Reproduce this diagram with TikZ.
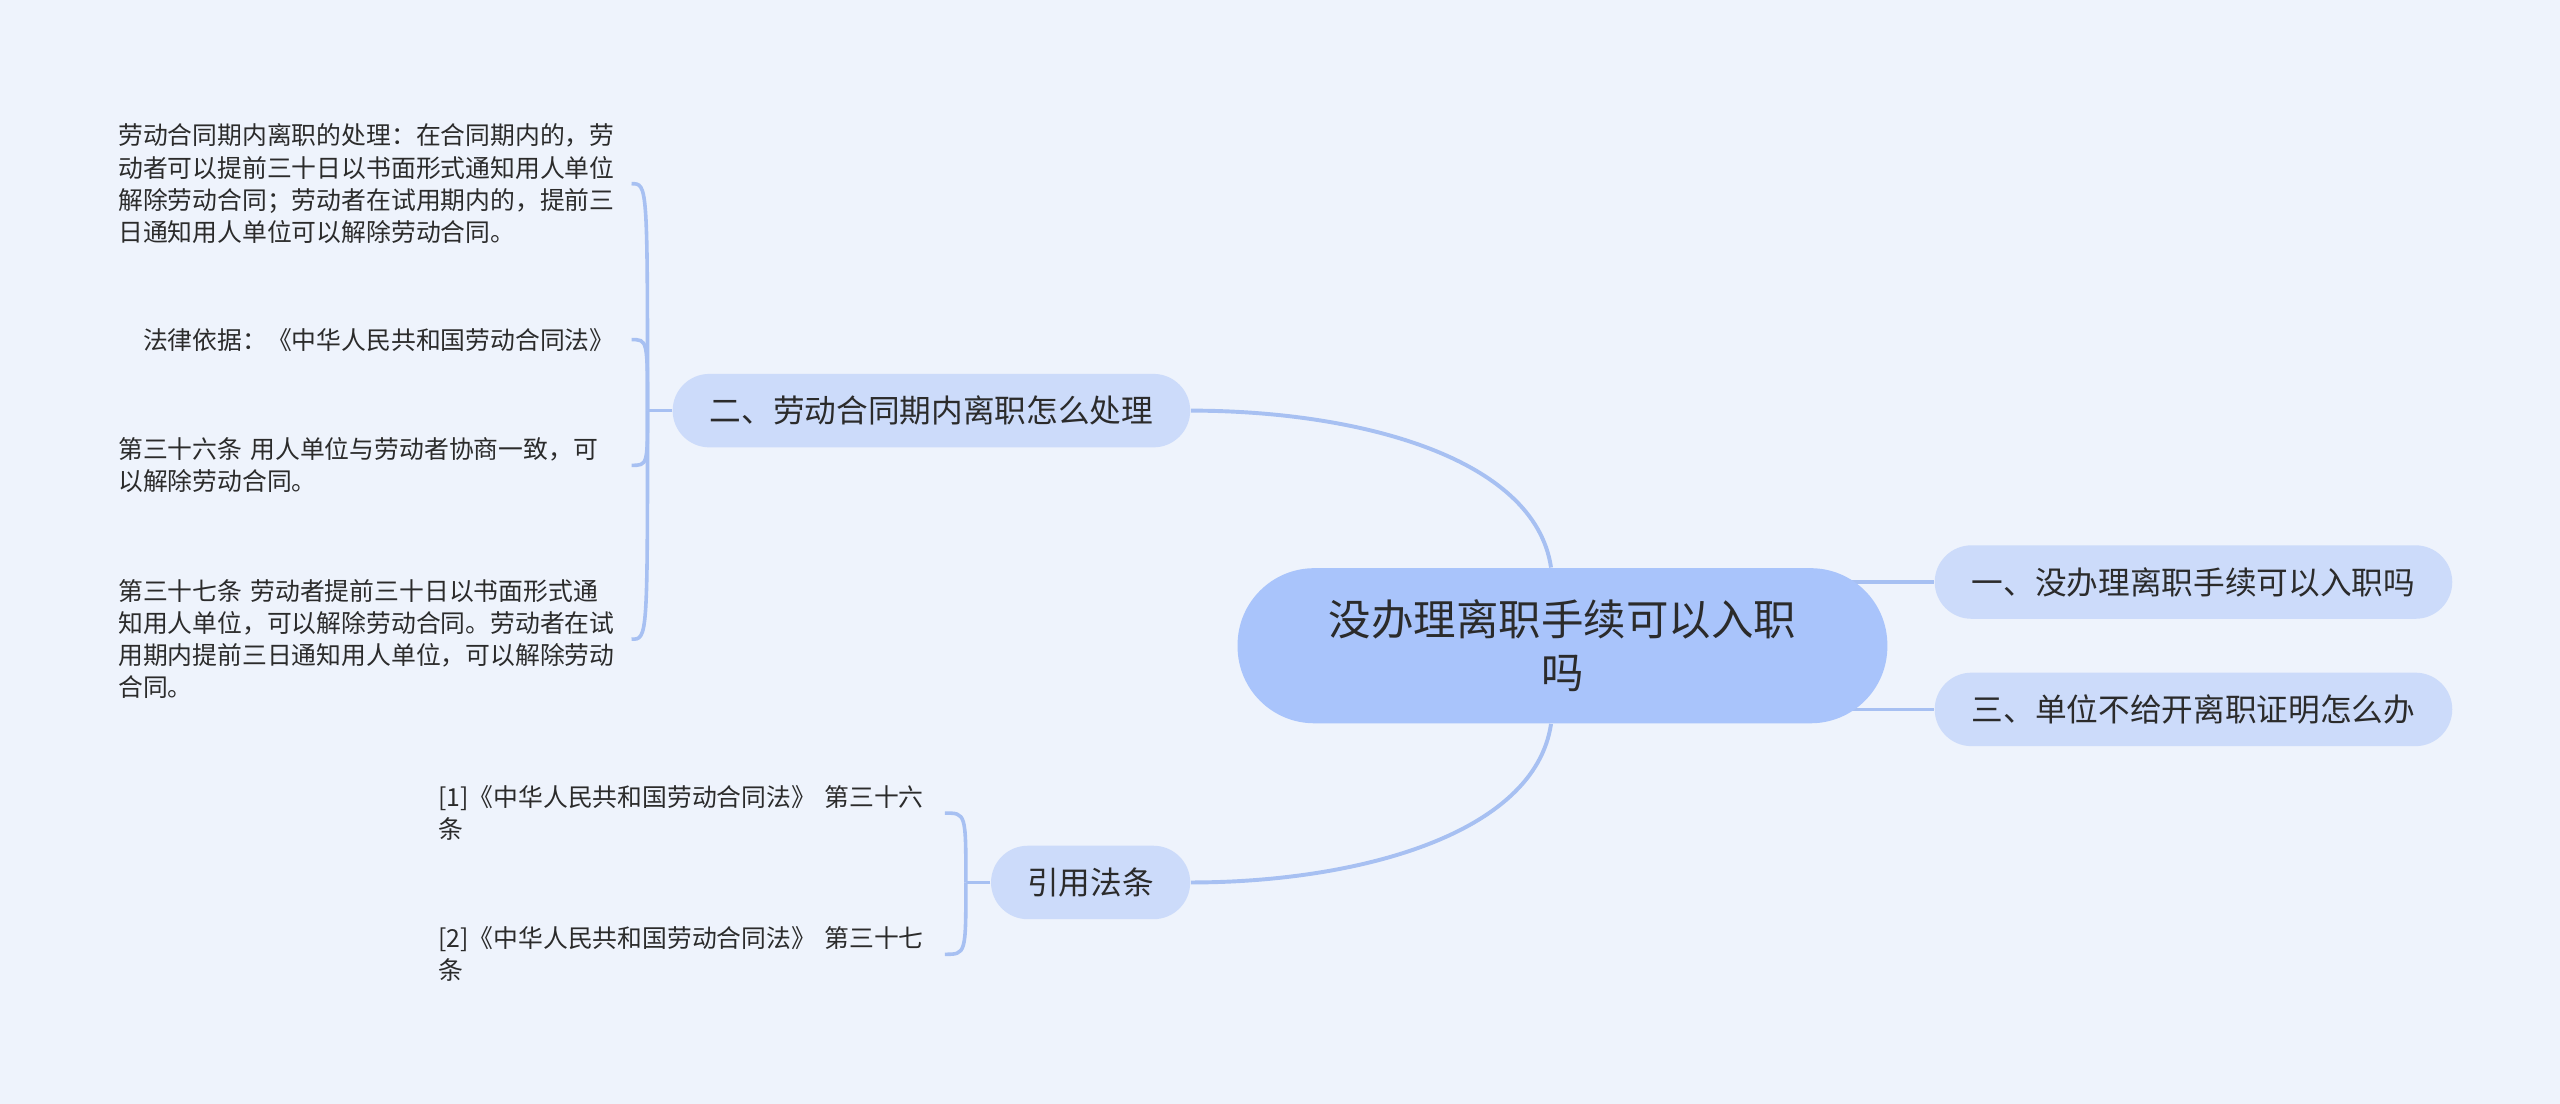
\documentclass[tikz,border=0pt]{standalone}
\usepackage{fontspec}
\setmainfont{Noto Sans CJK SC}
\usetikzlibrary{calc}
\definecolor{bgc}{HTML}{EEF3FC}
\definecolor{rootc}{HTML}{A9C4FB}
\definecolor{subc}{HTML}{CCDBFA}
\definecolor{linec}{HTML}{A7C0F2}
\definecolor{txtc}{HTML}{2B2B2B}
\pgfdeclarelayer{bglayer}
\pgfdeclarelayer{edgelayer}
\pgfsetlayers{bglayer,edgelayer,main}
\tikzset{
  rootnode/.style={fill=rootc, rounded corners=23.5pt, minimum width=199pt, minimum height=47.5pt,
    inner sep=0pt, align=center, text=txtc, font=\fontsize{13}{16}\selectfont},
  subnode/.style={fill=subc, rounded corners=11.25pt, minimum height=22.5pt, inner sep=0pt,
    text=txtc, font=\fontsize{9.7}{12}\selectfont},
  leafnode/.style={anchor=west, inner sep=0pt, align=left, text=txtc,
    font=\fontsize{7.6}{9.85}\selectfont},
  mainconn/.style={draw=linec, line width=1.2pt},
  sideconn/.style={draw=linec, line width=1.1pt},
  brconn/.style={draw=linec, line width=1.1pt},
}
\begin{document}
\begin{tikzpicture}[x=0.5pt,y=-0.5pt]
\begin{pgfonlayer}{bglayer}
\fill[bgc] (0,0) rectangle (1568,676);
\end{pgfonlayer}
\useasboundingbox (0,0) rectangle (1568,676);

% nodes
\node[rootnode] (c) at (957,395.5) {没办理离职手续可以入职\\吗};
\node[subnode, minimum width=158.5pt] (n1) at (1343.5,356.5) {一、没办理离职手续可以入职吗};
\node[subnode, minimum width=158.5pt] (n3) at (1343.5,434.5) {三、单位不给开离职证明怎么办};
\node[subnode, minimum width=158.5pt] (n2) at (570.5,251.5) {二、劳动合同期内离职怎么处理};
\node[subnode, minimum width=61pt] (yin) at (668,540.5) {引用法条};

\node[leafnode, text width=157pt] (t1) at (72,112.5) {劳动合同期内离职的处理：在合同期内的，劳\\动者可以提前三十日以书面形式通知用人单位\\解除劳动合同；劳动者在试用期内的，提前三\\日通知用人单位可以解除劳动合同。};
\node[leafnode, text width=157pt] (t2) at (72,208) {\hspace*{1em}法律依据：《中华人民共和国劳动合同法》};
\node[leafnode, text width=157pt] (t3) at (72,285) {第三十六条 用人单位与劳动者协商一致，可\\以解除劳动合同。};
\node[leafnode, text width=157pt] (t4) at (72,391.5) {第三十七条 劳动者提前三十日以书面形式通\\知用人单位，可以解除劳动合同。劳动者在试\\用期内提前三日通知用人单位，可以解除劳动\\合同。};

\node[leafnode, text width=155pt] (b1) at (268,498) {[1]《中华人民共和国劳动合同法》 第三十六\\条};
\node[leafnode, text width=155pt] (b2) at (268,584.5) {[2]《中华人民共和国劳动合同法》 第三十七\\条};

% connectors
\begin{pgfonlayer}{edgelayer}
\draw[sideconn] (c.center |- n1.west) -- (n1.west);
\draw[sideconn] (c.center |- n3.west) -- (n3.west);
\draw[mainconn] ($(c.north)+(-7,0)$) .. controls +(-10,-68) and +(101,0) .. (n2.east);
\draw[mainconn] ($(c.south)+(-7,0)$) .. controls +(-10,68) and +(101,0) .. (yin.east);

\coordinate (j2) at ($(n2.west)+(-15,0)$);
\draw[brconn] (n2.west) -- (j2);
\foreach \t in {t1,t2,t3,t4}
  \draw[brconn] (j2) .. controls (j2 |- \t.east) .. (\t.east);

\coordinate (jy) at ($(yin.west)+(-15,0)$);
\draw[brconn] (yin.west) -- (jy);
\foreach \t in {b1,b2}
  \draw[brconn] (jy) .. controls (jy |- \t.east) .. (\t.east);
\end{pgfonlayer}
\end{tikzpicture}
\end{document}
